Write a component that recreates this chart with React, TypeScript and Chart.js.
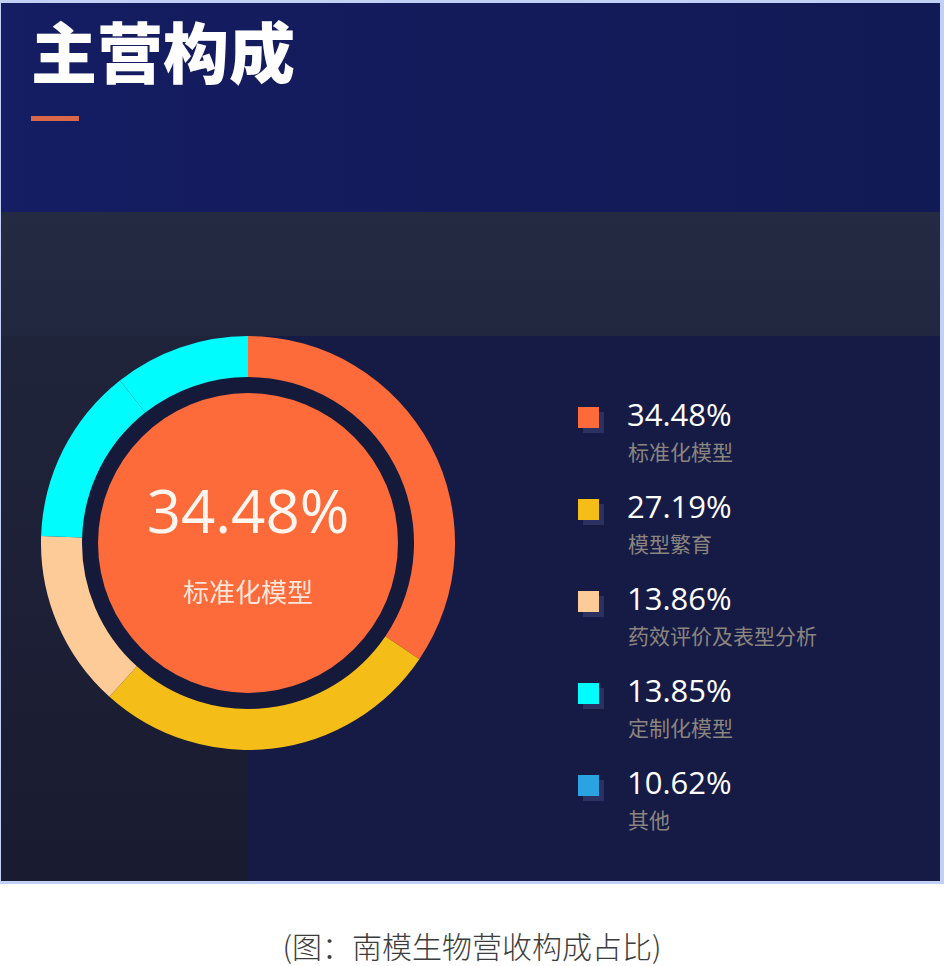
import React, { useEffect, useRef } from "react";
import { Chart, registerables } from "chart.js";

Chart.register(...registerables);

const categories = ["标准化模型", "模型繁育", "药效评价及表型分析", "定制化模型", "其他"];
const shares = [34.48, 27.19, 13.86, 13.85, 10.62];
const ringColors = ["#fd6b3a", "#f4bd17", "#fdcb98", "#00fcfc", "#00fcfc"];
const legendColors = ["#fd6b3a", "#f4bd17", "#fdcb98", "#00fcfc", "#2aa3e2"];
const titleText = "主营构成";
const captionText = "(图：南模生物营收构成占比)";
const highlightIndex = 0;

const pct = (v: number) => v.toFixed(2) + "%";

const innerDisc = {
  id: "innerDisc",
  beforeDatasetsDraw(chart: any) {
    const meta = chart.getDatasetMeta(0);
    const arc = meta.data[0];
    if (!arc) return;
    const { x, y, innerRadius } = arc.getProps(["x", "y", "innerRadius"], true);
    const ctx = chart.ctx;
    ctx.save();
    ctx.fillStyle = "#15193a";
    ctx.beginPath();
    ctx.arc(x, y, innerRadius, 0, Math.PI * 2);
    ctx.fill();
    ctx.fillStyle = ringColors[highlightIndex];
    ctx.beginPath();
    ctx.arc(x, y, innerRadius - 16, 0, Math.PI * 2);
    ctx.fill();
    ctx.restore();
  },
};

const CJK = '"Noto Sans CJK SC", "Noto Sans", sans-serif';
const LATIN = '"Open Sans", "Noto Sans", sans-serif';

export default function App() {
  const ref = useRef<HTMLCanvasElement | null>(null);

  useEffect(() => {
    if (!ref.current) return;
    const chart = new Chart(ref.current, {
      type: "doughnut",
      data: {
        labels: categories,
        datasets: [
          {
            data: shares,
            backgroundColor: ringColors,
            borderWidth: 0,
            hoverOffset: 0,
          },
        ],
      },
      options: {
        animation: false,
        responsive: true,
        maintainAspectRatio: false,
        cutout: 166,
        events: [],
        layout: { padding: 0 },
        plugins: {
          legend: { display: false },
          tooltip: { enabled: false },
          title: { display: false },
        },
      },
      plugins: [innerDisc],
    });
    return () => chart.destroy();
  }, []);

  const abs = (s: React.CSSProperties): React.CSSProperties => ({ position: "absolute", ...s });

  return (
    <div style={abs({ left: 0, top: 0, width: 944, height: 966, background: "#ffffff", overflow: "hidden" })}>
      <div style={abs({ left: 0, top: 0, width: 944, height: 884, background: "#c3d0f6" })} />
      <div
        style={abs({
          left: 1,
          top: 3,
          width: 939,
          height: 209,
          background: "linear-gradient(90deg, #151d63 0%, #131b5a 55%, #121a55 100%)",
        })}
      />
      <div style={abs({ left: 1, top: 212, width: 939, height: 124, background: "linear-gradient(180deg, #252a43, #222740)" })} />
      <div style={abs({ left: 1, top: 336, width: 247, height: 545, background: "linear-gradient(180deg, #20243b, #191b30)" })} />
      <div style={abs({ left: 248, top: 336, width: 692, height: 545, background: "#161b46" })} />

      <div
        style={abs({
          left: 31,
          top: 15,
          fontFamily: CJK,
          fontWeight: 900,
          fontSize: 66,
          lineHeight: "68px",
          color: "#ffffff",
          whiteSpace: "nowrap",
        })}
      >
        {titleText}
      </div>
      <div style={abs({ left: 31, top: 116, width: 48, height: 5, background: "#d9674b" })} />

      <div style={abs({ left: 41, top: 336, width: 414, height: 414 })}>
        <canvas ref={ref} />
      </div>

      <div
        style={abs({
          left: 48,
          width: 400,
          top: 480,
          textAlign: "center",
          fontFamily: LATIN,
          fontSize: 60,
          lineHeight: "60px",
          color: "#fff6f0",
        })}
      >
        {pct(shares[highlightIndex])}
      </div>
      <div
        style={abs({
          left: 48,
          width: 400,
          top: 578,
          textAlign: "center",
          fontFamily: CJK,
          fontSize: 26,
          lineHeight: "26px",
          color: "#fde6dc",
        })}
      >
        {categories[highlightIndex]}
      </div>

      {categories.map((name, i) => {
        const top = 407 + i * 92;
        return (
          <React.Fragment key={name}>
            <div
              style={abs({
                left: 578,
                top,
                width: 21,
                height: 21,
                background: legendColors[i],
                boxShadow: "5px 5px 0 #2b3160",
              })}
            />
            <div
              style={abs({
                left: 627,
                top: top - 8,
                fontFamily: LATIN,
                fontSize: 31,
                lineHeight: "31px",
                color: "#ffffff",
                whiteSpace: "nowrap",
              })}
            >
              {pct(shares[i])}
            </div>
            <div
              style={abs({
                left: 628,
                top: top + 34,
                fontFamily: CJK,
                fontSize: 21,
                lineHeight: "21px",
                color: "#8b857e",
                whiteSpace: "nowrap",
              })}
            >
              {name}
            </div>
          </React.Fragment>
        );
      })}

      <div
        style={abs({
          left: 0,
          width: 944,
          top: 930,
          textAlign: "center",
          fontFamily: CJK,
          fontWeight: 300,
          fontSize: 30,
          lineHeight: "30px",
          color: "#3c3c3c",
          whiteSpace: "nowrap",
        })}
      >
        {captionText}
      </div>
    </div>
  );
}
